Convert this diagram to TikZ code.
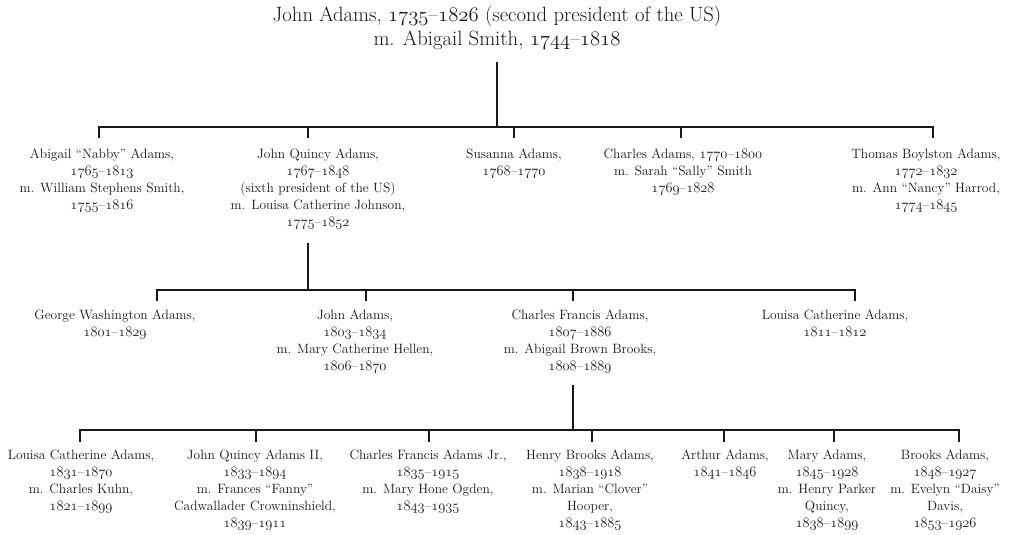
\documentclass[tikz,border=0pt]{standalone}
\newcommand\osn[1]{{\usefont{OML}{lmm}{m}{it}#1}}
\newcommand\yr[2]{\osn{#1}--\osn{#2}}
\definecolor{ink}{HTML}{1A1718}
\tikzset{
  person/.style={anchor=north, align=center, inner sep=0pt, text=ink,
    font=\fontsize{13.5}{17}\selectfont},
  toptitle/.style={anchor=north, align=center, inner sep=0pt, text=ink,
    font=\fontsize{20.7}{23.5}\selectfont},
  link/.style={line width=1.8pt, draw=ink, line join=miter},
}
\begin{document}
\begin{tikzpicture}[x=1pt,y=-1pt]
\useasboundingbox (0,0) rectangle (1018,535);
% generation 0
\node[toptitle] (ja) at (497,6) {John Adams, \yr{1735}{1826} (second president of the US)\\ m. Abigail Smith, \yr{1744}{1818}};
% generation 1
\node[person] (nab) at (102,149) {Abigail ``Nabby'' Adams,\\ \yr{1765}{1813}\\ m. William Stephens Smith,\\ \yr{1755}{1816}};
\node[person] (jqa) at (318,149) {John Quincy Adams,\\ \yr{1767}{1848}\\ (sixth president of the US)\\ m. Louisa Catherine Johnson,\\ \yr{1775}{1852}};
\node[person] (sus) at (514,149) {Susanna Adams,\\ \yr{1768}{1770}};
\node[person] (cha) at (683,149) {Charles Adams, \yr{1770}{1800}\\ m. Sarah ``Sally'' Smith\\ \yr{1769}{1828}};
\node[person] (tba) at (926,149) {Thomas Boylston Adams,\\ \yr{1772}{1832}\\ m. Ann ``Nancy'' Harrod,\\ \yr{1774}{1845}};
% generation 2
\node[person] (gwa) at (115,310) {George Washington Adams,\\ \yr{1801}{1829}};
\node[person] (jad) at (355,310) {John Adams,\\ \yr{1803}{1834}\\ m. Mary Catherine Hellen,\\ \yr{1806}{1870}};
\node[person] (cfa) at (580,310) {Charles Francis Adams,\\ \yr{1807}{1886}\\ m. Abigail Brown Brooks,\\ \yr{1808}{1889}};
\node[person] (lca) at (835,310) {Louisa Catherine Adams,\\ \yr{1811}{1812}};
% generation 3
\node[person] (lck) at (81,450) {Louisa Catherine Adams,\\ \yr{1831}{1870}\\ m. Charles Kuhn,\\ \yr{1821}{1899}};
\node[person] (jq2) at (255,450) {John Quincy Adams II,\\ \yr{1833}{1894}\\ m. Frances ``Fanny''\\ Cadwallader Crowninshield,\\ \yr{1839}{1911}};
\node[person] (cfj) at (428,450) {Charles Francis Adams Jr.,\\ \yr{1835}{1915}\\ m. Mary Hone Ogden,\\ \yr{1843}{1935}};
\node[person] (hba) at (590,450) {Henry Brooks Adams,\\ \yr{1838}{1918}\\ m. Marian ``Clover''\\ Hooper,\\ \yr{1843}{1885}};
\node[person] (art) at (725,450) {Arthur Adams,\\ \yr{1841}{1846}};
\node[person] (mar) at (827,450) {Mary Adams,\\ \yr{1845}{1928}\\ m. Henry Parker\\ Quincy,\\ \yr{1838}{1899}};
\node[person] (bro) at (945,450) {Brooks Adams,\\ \yr{1848}{1927}\\ m. Evelyn ``Daisy''\\ Davis,\\ \yr{1853}{1926}};
% connectors generation 0 -> 1
\coordinate (r0) at (497,62);
\coordinate (r1) at (497,127);
\coordinate (a1) at (99,127);  \coordinate (a1e) at (99,138);
\coordinate (a2) at (308,127); \coordinate (a2e) at (308,138);
\coordinate (a3) at (514,127); \coordinate (a3e) at (514,138);
\coordinate (a4) at (681,127); \coordinate (a4e) at (681,138);
\coordinate (a5) at (933,127); \coordinate (a5e) at (933,138);
\draw[link] (r0) -- (r1);
\draw[link] (a1e) -- (a1) -- (a5) -- (a5e);
\draw[link] (a2) -- (a2e);
\draw[link] (a3) -- (a3e);
\draw[link] (a4) -- (a4e);
% connectors generation 1 -> 2
\coordinate (q0) at (308,243);
\coordinate (q1) at (308,290);
\coordinate (b1) at (157,290); \coordinate (b1e) at (157,301);
\coordinate (b2) at (366,290); \coordinate (b2e) at (366,301);
\coordinate (b3) at (573,290); \coordinate (b3e) at (573,301);
\coordinate (b4) at (855,290); \coordinate (b4e) at (855,301);
\draw[link] (q0) -- (q1);
\draw[link] (b1e) -- (b1) -- (b4) -- (b4e);
\draw[link] (b2) -- (b2e);
\draw[link] (b3) -- (b3e);
% connectors generation 2 -> 3
\coordinate (f0) at (573,385);
\coordinate (f1) at (573,430);
\coordinate (c1) at (80,430);  \coordinate (c1e) at (80,442);
\coordinate (c2) at (256,430); \coordinate (c2e) at (256,442);
\coordinate (c3) at (429,430); \coordinate (c3e) at (429,442);
\coordinate (c4) at (592,430); \coordinate (c4e) at (592,442);
\coordinate (c5) at (724,430); \coordinate (c5e) at (724,442);
\coordinate (c6) at (834,430); \coordinate (c6e) at (834,442);
\coordinate (c7) at (959,430); \coordinate (c7e) at (959,442);
\draw[link] (f0) -- (f1);
\draw[link] (c1e) -- (c1) -- (c7) -- (c7e);
\draw[link] (c2) -- (c2e);
\draw[link] (c3) -- (c3e);
\draw[link] (c4) -- (c4e);
\draw[link] (c5) -- (c5e);
\draw[link] (c6) -- (c6e);
\end{tikzpicture}
\end{document}
